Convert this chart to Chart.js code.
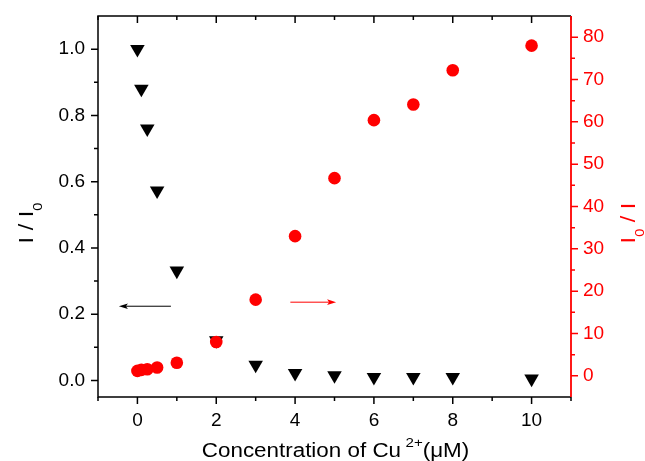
<!DOCTYPE html>
<html><head><meta charset="utf-8">
<script src="https://cdn.jsdelivr.net/npm/chart.js@4.4.0/dist/chart.umd.min.js"></script>
<style>html,body{margin:0;padding:0;background:#fff;}canvas{display:block}</style>
</head><body>
<canvas id="c" width="645" height="461"></canvas>
<script>
// ---- data ----
const concentration = [0, 0.1, 0.25, 0.5, 1, 2, 3, 4, 5, 6, 7, 8, 10];
const ratioIoverI0 = [1.0, 0.88, 0.76, 0.573, 0.331, 0.121, 0.047, 0.022, 0.015, 0.01, 0.01, 0.01, 0.005];
const ratioI0overI = [1.17, 1.4, 1.57, 1.97, 3.1, 8.0, 18.0, 33.0, 46.7, 60.4, 64.1, 72.2, 78.0];
const xMajorTicks = [0, 2, 4, 6, 8, 10];
const xMinorTicks = [-1, 1, 3, 5, 7, 9, 11];
const yMajorTicks = [0, 0.2, 0.4, 0.6, 0.8, 1.0];
const yMinorTicks = [0.1, 0.3, 0.5, 0.7, 0.9];
const y2MajorTicks = [0, 10, 20, 30, 40, 50, 60, 70, 80];
const y2MinorTicks = [5, 15, 25, 35, 45, 55, 65, 75];
// arrow annotations (data units): from x1 to x2 (head at x2)
const arrowAxes = ['y', 'y2'];
const arrowFrom = [0.85, 3.88];
const arrowTo = [-0.47, 5.04];
const arrowLevel = [0.224, 17.4];
const arrowColors = ['#000000', '#ff0000'];

const RED = '#ff0000';
const FONT = '"Liberation Sans", Arial, Helvetica, sans-serif';
const SX = 1.12;

function pts(ys) { return concentration.map((x, i) => ({ x, y: ys[i] })); }
function fixTicks(arr) { return s => { s.ticks = arr.map(v => ({ value: v })); }; }
function noPad(s) { s.paddingTop = 0; s.paddingBottom = 0; s.paddingLeft = 0; s.paddingRight = 0; }

function drawParts(ctx, parts, cx, baseline, rotate) {
  ctx.save();
  ctx.translate(cx, baseline);
  if (rotate) ctx.rotate(-Math.PI / 2);
  ctx.scale(SX, 1);
  let total = 0;
  parts.forEach(p => { ctx.font = p.s + 'px ' + FONT; p.w = ctx.measureText(p.t).width; total += p.w + (p.gap || 0); });
  let xx = -total / 2;
  ctx.textBaseline = 'alphabetic';
  ctx.textAlign = 'left';
  parts.forEach(p => {
    xx += (p.gap || 0);
    ctx.font = p.s + 'px ' + FONT;
    ctx.fillText(p.t, xx, p.dy);
    xx += p.w;
  });
  ctx.restore();
}

const framePlugin = {
  id: 'frame',
  afterDraw(chart) {
    const { ctx, chartArea: a, scales } = chart;
    const x = scales.x, y = scales.y, y2 = scales.y2;
    ctx.save();
    ctx.lineWidth = 1.5;
    ctx.lineCap = 'butt';
    ctx.strokeStyle = '#000';
    ctx.beginPath();
    ctx.moveTo(a.right, a.top); ctx.lineTo(a.left, a.top); ctx.lineTo(a.left, a.bottom); ctx.lineTo(a.right, a.bottom);
    ctx.stroke();
    ctx.beginPath();
    const tk = (vals, len) => vals.forEach(v => {
      const p = x.getPixelForValue(v);
      ctx.moveTo(p, a.bottom); ctx.lineTo(p, a.bottom + len);
      ctx.moveTo(p, a.top); ctx.lineTo(p, a.top + len);
    });
    tk(xMajorTicks, 7); tk(xMinorTicks, 4);
    const lk = (vals, len) => vals.forEach(v => {
      const p = y.getPixelForValue(v);
      ctx.moveTo(a.left, p); ctx.lineTo(a.left - len, p);
    });
    lk(yMajorTicks, 7); lk(yMinorTicks, 4);
    ctx.stroke();
    ctx.strokeStyle = RED;
    ctx.lineWidth = 1.8;
    ctx.beginPath();
    ctx.moveTo(a.right, a.top); ctx.lineTo(a.right, a.bottom);
    ctx.stroke();
    ctx.lineWidth = 1.5;
    ctx.beginPath();
    const rk = (vals, len) => vals.forEach(v => {
      const p = y2.getPixelForValue(v);
      ctx.moveTo(a.right, p); ctx.lineTo(a.right + len, p);
    });
    rk(y2MajorTicks, 7); rk(y2MinorTicks, 4);
    ctx.stroke();
    arrowAxes.forEach((ax, i) => {
      const sc = scales[ax];
      const px1 = x.getPixelForValue(arrowFrom[i]);
      const px2 = x.getPixelForValue(arrowTo[i]);
      const py = sc.getPixelForValue(arrowLevel[i]);
      const dir = Math.sign(px2 - px1);
      ctx.strokeStyle = arrowColors[i];
      ctx.fillStyle = arrowColors[i];
      ctx.lineWidth = 1;
      ctx.beginPath();
      ctx.moveTo(px1, py); ctx.lineTo(px2 - dir * 6, py);
      ctx.stroke();
      ctx.beginPath();
      ctx.moveTo(px2, py);
      ctx.lineTo(px2 - dir * 9, py - 2.8);
      ctx.lineTo(px2 - dir * 7, py);
      ctx.lineTo(px2 - dir * 9, py + 2.8);
      ctx.closePath();
      ctx.fill();
    });
    ctx.fillStyle = '#000';
    drawParts(ctx, [
      { t: 'Concentration of Cu', s: 20, dy: 0 },
      { t: '2+', s: 13.5, dy: -10, gap: 4 },
      { t: '(\u03bcM)', s: 20, dy: 0 }
    ], 335.5, 456.5, false);
    drawParts(ctx, [
      { t: 'I / I', s: 21, dy: 0 },
      { t: '0', s: 13, dy: 8.5 }
    ], 33, 223, true);
    ctx.fillStyle = RED;
    drawParts(ctx, [
      { t: 'I', s: 21, dy: 0 },
      { t: '0', s: 13, dy: 8.5 },
      { t: ' / I', s: 21, dy: 0 }
    ], 635, 223, true);
    ctx.restore();
  }
};

new Chart(document.getElementById('c'), {
  type: 'scatter',
  data: {
    datasets: [
      {
        label: 'I/I0', data: pts(ratioIoverI0), yAxisID: 'y', order: 2,
        pointStyle: 'triangle', rotation: 180, pointRadius: 8.4,
        backgroundColor: '#000', borderColor: '#000', borderWidth: 0, showLine: false
      },
      {
        label: 'I0/I', data: pts(ratioI0overI), yAxisID: 'y2', order: 1,
        pointStyle: 'circle', pointRadius: 6.3,
        backgroundColor: RED, borderColor: RED, borderWidth: 0, showLine: false
      }
    ]
  },
  options: {
    responsive: false, animation: false, events: [],
    layout: { padding: { top: 16, left: 0, right: 0, bottom: 0 } },
    plugins: { legend: { display: false }, tooltip: { enabled: false } },
    scales: {
      x: {
        type: 'linear', position: 'bottom', min: -1, max: 11,
        grid: { display: false, drawTicks: false }, border: { display: false },
        afterBuildTicks: fixTicks(xMajorTicks),
        afterFit: s => { s.height = 64; noPad(s); },
        ticks: { color: '#000', padding: 12, maxRotation: 0, font: { family: FONT, size: 19 }, callback: v => String(v) }
      },
      y: {
        type: 'linear', position: 'left', min: -0.05, max: 1.1,
        grid: { display: false, drawTicks: false }, border: { display: false },
        afterBuildTicks: fixTicks(yMajorTicks),
        afterFit: s => { s.width = 98; noPad(s); },
        ticks: { color: '#000', padding: 13, font: { family: FONT, size: 19 }, callback: v => Number(v).toFixed(1) }
      },
      y2: {
        type: 'linear', position: 'right', min: -5, max: 85,
        grid: { display: false, drawTicks: false }, border: { display: false },
        afterBuildTicks: fixTicks(y2MajorTicks),
        afterFit: s => { s.width = 74; noPad(s); },
        ticks: { color: RED, padding: 12, font: { family: FONT, size: 19 }, callback: v => String(v) }
      }
    }
  },
  plugins: [framePlugin]
});
</script>
</body></html>
